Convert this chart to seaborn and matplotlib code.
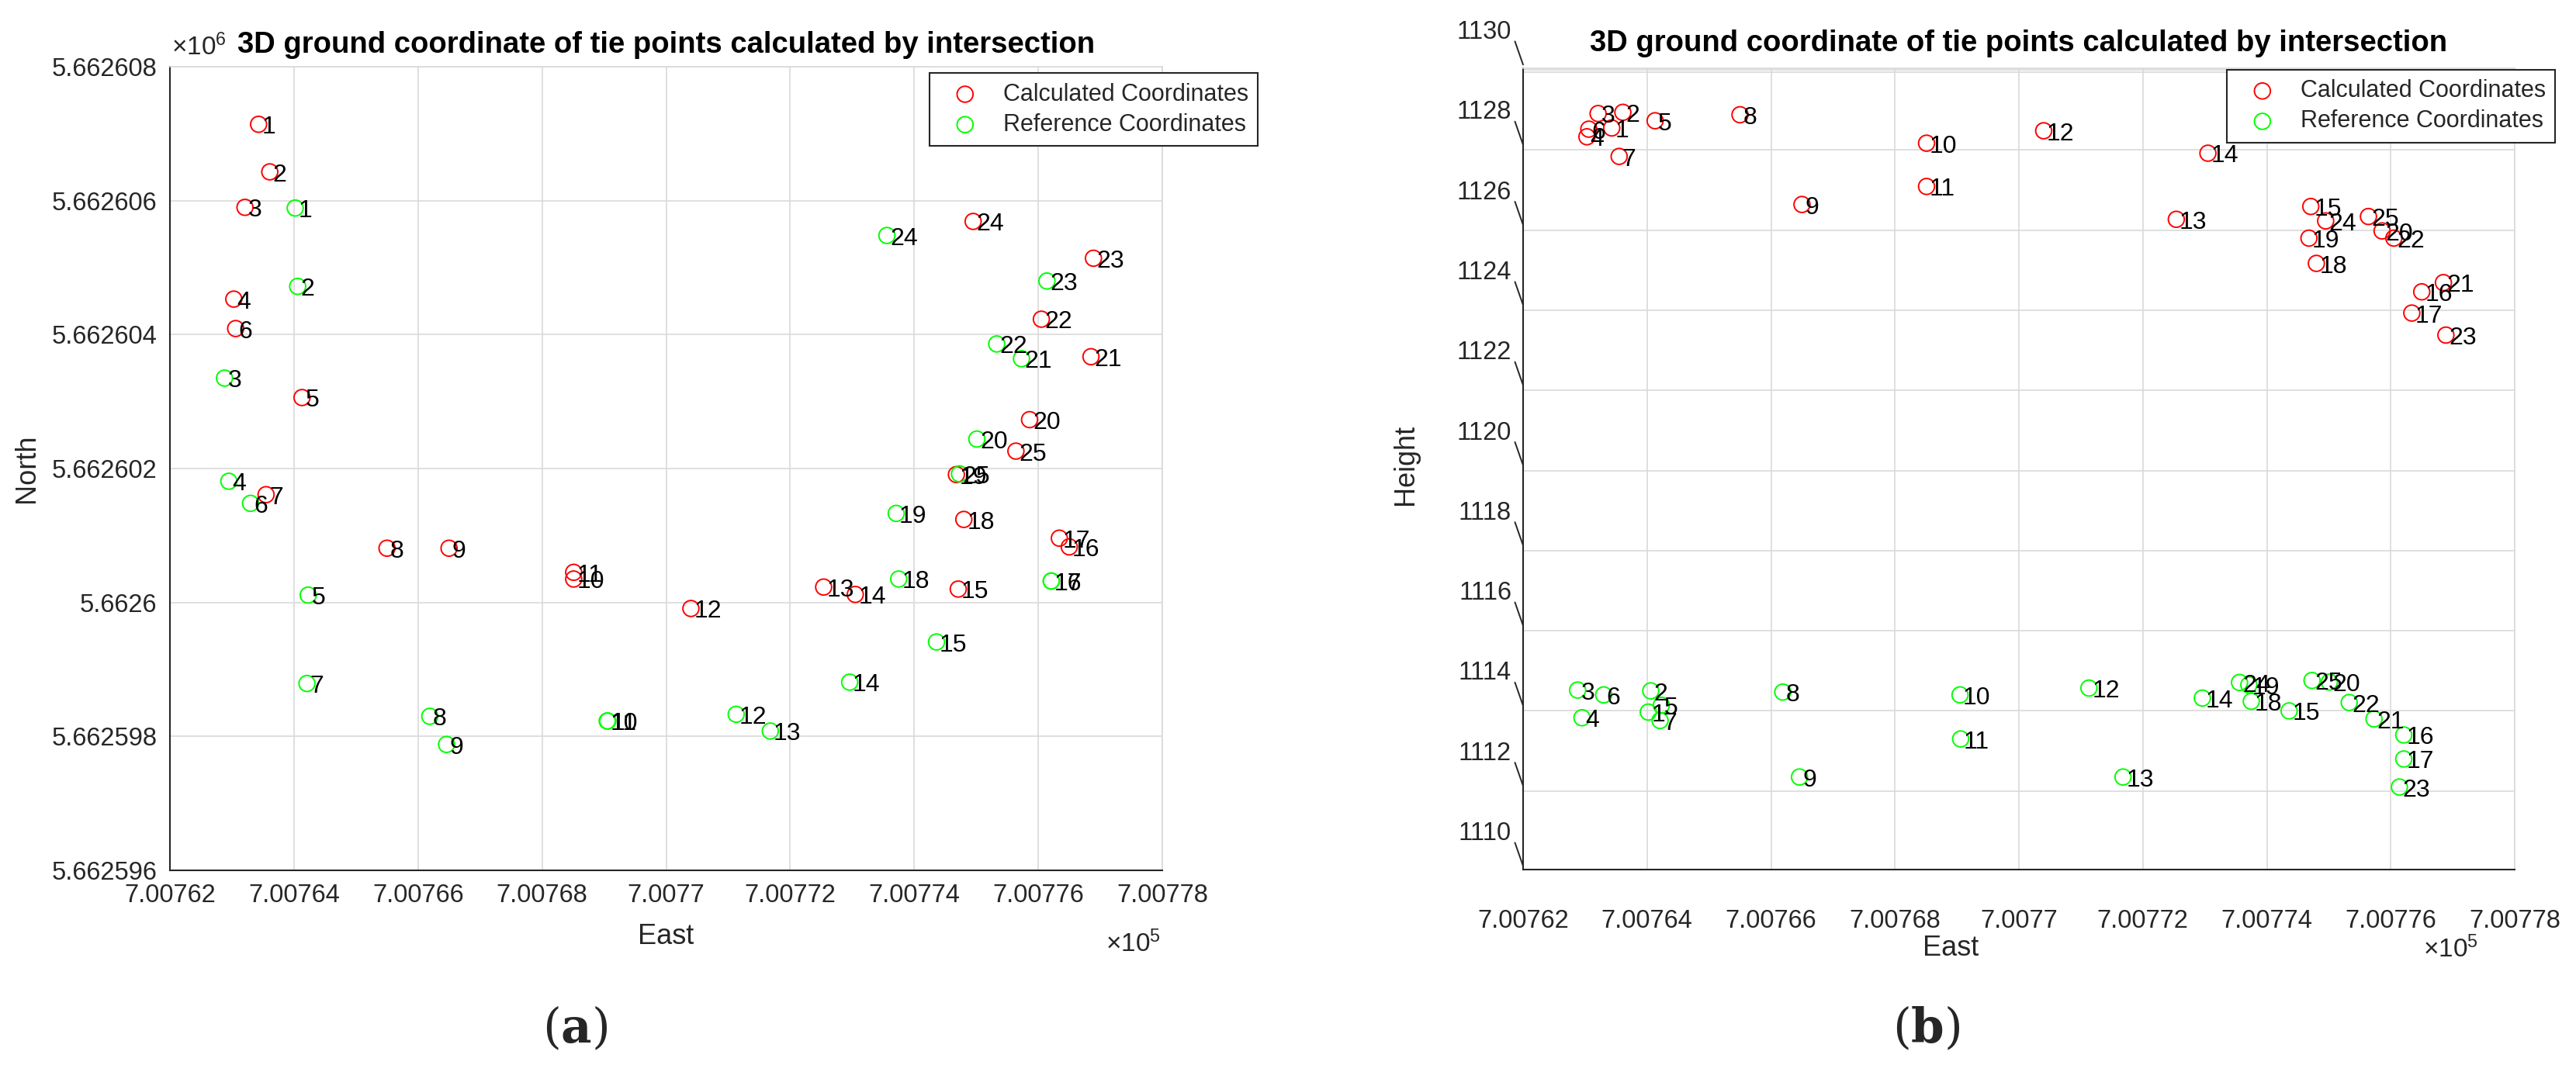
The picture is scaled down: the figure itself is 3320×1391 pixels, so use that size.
import numpy as np
import matplotlib
matplotlib.use('Agg')
import matplotlib.pyplot as plt
import seaborn as sns

# tie point ids
point_ids = [str(i) for i in range(1, 26)]

# calculated coordinates (intersection)
east_calc = [700763.43, 700763.61, 700763.21, 700763.03, 700764.13, 700763.06, 700763.55, 700765.50,
             700766.50, 700768.51, 700768.51, 700770.40, 700772.54, 700773.05, 700774.71, 700776.50,
             700776.34, 700774.80, 700774.68, 700775.86, 700776.85, 700776.05, 700776.89, 700774.95,
             700775.64]
north_calc = [5662607.14, 5662606.43, 5662605.90, 5662604.53, 5662603.06, 5662604.09, 5662601.61,
              5662600.81, 5662600.81, 5662600.35, 5662600.45, 5662599.91, 5662600.23, 5662600.12,
              5662600.20, 5662600.83, 5662600.96, 5662601.24, 5662601.91, 5662602.73, 5662603.67,
              5662604.23, 5662605.14, 5662605.69, 5662602.26]
height_calc = [1127.61, 1128.00, 1127.97, 1127.39, 1127.79, 1127.58, 1126.90, 1127.94, 1125.70,
               1127.23, 1126.15, 1127.54, 1125.33, 1126.98, 1125.65, 1123.52, 1122.99, 1124.23,
               1124.86, 1125.04, 1123.75, 1124.86, 1122.44, 1125.29, 1125.40]

# reference coordinates
east_ref = [700764.02, 700764.06, 700762.88, 700762.95, 700764.23, 700763.30, 700764.21, 700766.19,
            700766.46, 700769.05, 700769.06, 700771.13, 700771.68, 700772.96, 700774.36, 700776.21,
            700776.21, 700773.75, 700773.71, 700775.01, 700775.73, 700775.33, 700776.14, 700773.56,
            700774.73]
north_ref = [5662605.89, 5662604.72, 5662603.35, 5662601.81, 5662600.11, 5662601.48, 5662598.79,
             5662598.30, 5662597.88, 5662598.23, 5662598.23, 5662598.33, 5662598.08, 5662598.81,
             5662599.41, 5662600.32, 5662600.32, 5662600.35, 5662601.33, 5662602.44, 5662603.64,
             5662603.86, 5662604.80, 5662605.48, 5662601.92]
height_ref = [1113.03, 1113.56, 1113.58, 1112.89, 1113.20, 1113.46, 1112.82, 1113.53, 1111.41,
              1113.46, 1112.36, 1113.63, 1111.41, 1113.38, 1113.06, 1112.46, 1111.86, 1113.30,
              1113.71, 1113.78, 1112.86, 1113.27, 1111.16, 1113.77, 1113.82]

# axis ticks
east_ticks = [700762, 700764, 700766, 700768, 700770, 700772, 700774, 700776, 700778]
east_tick_labels = ['7.00762', '7.00764', '7.00766', '7.00768', '7.0077', '7.00772', '7.00774',
                    '7.00776', '7.00778']
north_ticks = [5662596, 5662598, 5662600, 5662602, 5662604, 5662606, 5662608]
north_tick_labels = ['5.662596', '5.662598', '5.6626', '5.662602', '5.662604', '5.662606', '5.662608']
height_ticks = [1110, 1112, 1114, 1116, 1118, 1120, 1122, 1124, 1126, 1128, 1130]

title = '3D ground coordinate of tie points calculated by intersection'

sns.set_style('white')
plt.rcParams['font.family'] = ['Liberation Sans', 'DejaVu Sans']
plt.rcParams['mathtext.fontset'] = 'custom'
plt.rcParams['mathtext.rm'] = 'Liberation Sans'
plt.rcParams['mathtext.bf'] = 'DejaVu Serif:bold'

W, H = 3320, 1391
fig = plt.figure(figsize=(W / 100, H / 100), dpi=100)
ax1 = fig.add_axes([219 / W, 1 - 1122 / H, 1279 / W, 1036 / H])
ax2 = fig.add_axes([1963 / W, 1 - 1121 / H, 1278 / W, 1033 / H])

dark = '0.15'
gridc = '0.85'
msize = 220
mlw = 1.4
lab_fs = 23
tick_fs = 23.5
title_fs = 27.5


def draw_points(ax, xs, ys, color, label):
    sns.scatterplot(x=xs, y=ys, ax=ax, marker='o', s=msize, color=color, facecolor='none',
                    edgecolor=color, linewidth=mlw, label=label, zorder=3)
    for pid, x, y in zip(point_ids, xs, ys):
        ax.annotate(pid, (x, y), xytext=(4, -4), textcoords='offset pixels', ha='left',
                    va='center', fontsize=lab_fs, color='black', zorder=4)


def style_common(ax):
    ax.set_xlim(east_ticks[0], east_ticks[-1])
    ax.set_xticks(east_ticks)
    ax.set_xticklabels(east_tick_labels)
    ax.grid(True, color=gridc, lw=1.2, zorder=0)
    ax.set_axisbelow(True)
    for s in ['left', 'bottom']:
        ax.spines[s].set_color(dark)
        ax.spines[s].set_linewidth(1.5)
    for s in ['top', 'right']:
        ax.spines[s].set_color(gridc)
        ax.spines[s].set_linewidth(1.2)
    leg = ax.legend(loc='upper left', fontsize=22, frameon=True, fancybox=False, framealpha=1,
                    edgecolor=dark, borderpad=0.4, handlelength=2.2, handletextpad=0.5,
                    labelspacing=0.3, borderaxespad=0)
    leg.get_frame().set_linewidth(1.5)
    return leg


# (a) East / North
draw_points(ax1, east_calc, north_calc, 'red', 'Calculated Coordinates')
draw_points(ax1, east_ref, north_ref, '#00ff00', 'Reference Coordinates')
leg1 = style_common(ax1)
leg1.set_bbox_to_anchor((0.7654, 0.992))
ax1.set_title(title, fontsize=title_fs, fontweight='bold', color='black', pad=13)
ax1.set_ylim(north_ticks[0], north_ticks[-1])
ax1.set_yticks(north_ticks)
ax1.set_yticklabels(north_tick_labels)
ax1.tick_params(direction='in', length=10, width=1.5, color=dark, labelsize=tick_fs,
                labelcolor=dark, pad=12)
ax1.set_xlabel('East', fontsize=26, color=dark)
ax1.xaxis.set_label_coords(0.5, -0.066)
ax1.set_ylabel('North', fontsize=26, color=dark)
ax1.yaxis.set_label_coords(-0.1306, 0.5)
ax1.annotate(r'$\times\mathregular{10^{6}}$', xy=(0, 1), xycoords='axes fraction', xytext=(2, 8),
             textcoords='offset pixels', ha='left', va='bottom', fontsize=24, color=dark)
ax1.annotate(r'$\times\mathregular{10^{5}}$', xy=(1, 0), xycoords='axes fraction', xytext=(-2, -112),
             textcoords='offset pixels', ha='right', va='bottom', fontsize=24, color=dark)

# (b) East / Height (side view of 3D plot)
draw_points(ax2, east_calc, height_calc, 'red', 'Calculated Coordinates')
draw_points(ax2, east_ref, height_ref, '#00ff00', 'Reference Coordinates')
leg2 = style_common(ax2)
leg2.set_bbox_to_anchor((0.7097, 0.998))
ax2.set_title(title, fontsize=title_fs, fontweight='bold', color='black', pad=16)
ax2.set_ylim(1109.1, 1129.1)
ax2.set_yticks([t - 0.94 for t in height_ticks[1:]])
ax2.set_yticklabels([])
ax2.tick_params(axis='y', length=0)
ax2.tick_params(axis='x', direction='out', length=24, width=1.5, color=dark, labelsize=tick_fs,
                labelcolor=dark, pad=13)
ytr = ax2.get_yaxis_transform()
for t in height_ticks:
    ax2.annotate(str(t), xy=(0, t), xycoords=ytr, xytext=(-15, 0), textcoords='offset pixels',
                 ha='right', va='center', fontsize=tick_fs, color=dark, annotation_clip=False)
    ax2.plot([-10.5 / 1278, 0], [t - 0.23, t - 0.81], transform=ytr, color=dark, lw=1.4,
             clip_on=False)
ax2.axhline(1129.0, color=gridc, lw=1.2, zorder=0)
ax2.set_xlabel('East', fontsize=26, color=dark)
ax2.xaxis.set_label_coords(0.431, -0.081)
ax2.set_ylabel('Height', fontsize=26, color=dark)
ax2.yaxis.set_label_coords(-0.105, 0.505)
ax2.annotate(r'$\times\mathregular{10^{5}}$', xy=(1, 0), xycoords='axes fraction', xytext=(-47, -120),
             textcoords='offset pixels', ha='right', va='bottom', fontsize=24, color=dark)

fig.text(741 / W, 1 - 1327 / H, r'($\mathbf{a}$)', family='DejaVu Serif', fontsize=44,
         ha='center', va='center')
fig.text(2483 / W, 1 - 1327 / H, r'($\mathbf{b}$)', family='DejaVu Serif', fontsize=44,
         ha='center', va='center')

fig.savefig('out.png', dpi=100, facecolor='white')
